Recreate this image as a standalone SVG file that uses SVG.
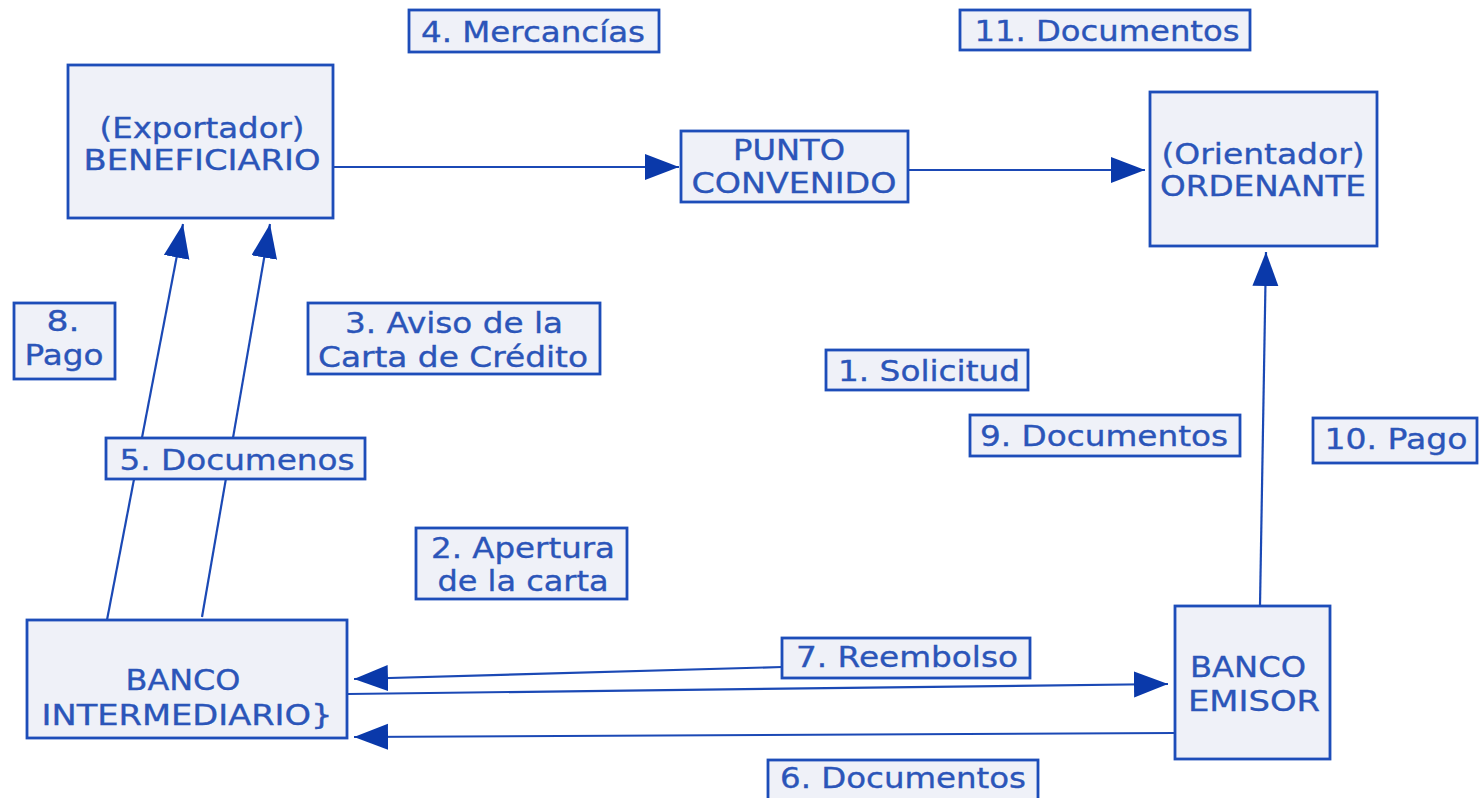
<svg xmlns="http://www.w3.org/2000/svg" width="1479" height="798" viewBox="0 0 1479 798">
<style>
.box{fill:#eff1f8;stroke:#1d4db9;stroke-width:2.8}
.t{font-family:"DejaVu Sans",Verdana,sans-serif;font-size:28px;fill:#2b55b9;stroke:#2b55b9;stroke-width:0.35;text-anchor:middle}
.c{stroke:#1b49b5;stroke-width:2.2;fill:none;marker-end:url(#ah)}
</style>
<defs>
<marker id="ah" markerUnits="userSpaceOnUse" markerWidth="36" markerHeight="28" refX="34" refY="13" orient="auto">
<path d="M0,0 L34,13 L0,26 z" fill="#0a39aa"/>
</marker>
</defs>
<rect x="0" y="0" width="1479" height="798" fill="#ffffff"/>
<g id="connectors">
<line class="c" x1="334" y1="167" x2="679" y2="167"/>
<line class="c" x1="909" y1="170" x2="1145" y2="170"/>
<line class="c" x1="107" y1="620" x2="183" y2="224"/>
<line class="c" x1="202" y1="617" x2="270" y2="224"/>
<line class="c" x1="1260" y1="606" x2="1266" y2="252"/>
<line class="c" x1="782" y1="667" x2="354" y2="679"/>
<line class="c" x1="348" y1="694" x2="1168" y2="684"/>
<line class="c" x1="1175" y1="733" x2="354" y2="737"/>
</g>
<g id="beneficiario">
<rect class="box" x="68" y="65" width="265" height="153"/>
<text class="t" x="202" y="138" textLength="205" lengthAdjust="spacingAndGlyphs">(Exportador)</text>
<text class="t" x="202" y="170" textLength="237" lengthAdjust="spacingAndGlyphs">BENEFICIARIO</text>
</g>
<g id="punto">
<rect class="box" x="681" y="131" width="227" height="71"/>
<text class="t" x="789" y="160" textLength="112" lengthAdjust="spacingAndGlyphs">PUNTO</text>
<text class="t" x="794" y="193" textLength="205" lengthAdjust="spacingAndGlyphs">CONVENIDO</text>
</g>
<g id="ordenante">
<rect class="box" x="1150" y="92" width="227" height="154"/>
<text class="t" x="1263" y="164" textLength="203" lengthAdjust="spacingAndGlyphs">(Orientador)</text>
<text class="t" x="1263" y="196" textLength="206" lengthAdjust="spacingAndGlyphs">ORDENANTE</text>
</g>
<g id="intermediario">
<rect class="box" x="27" y="620" width="320" height="118"/>
<text class="t" x="183" y="690" textLength="115" lengthAdjust="spacingAndGlyphs">BANCO</text>
<text class="t" x="187" y="725" textLength="291" lengthAdjust="spacingAndGlyphs">INTERMEDIARIO}</text>
</g>
<g id="emisor">
<rect class="box" x="1175" y="606" width="155" height="153"/>
<text class="t" x="1248" y="677" textLength="116" lengthAdjust="spacingAndGlyphs">BANCO</text>
<text class="t" x="1254" y="711" textLength="132" lengthAdjust="spacingAndGlyphs">EMISOR</text>
</g>
<g id="l4">
<rect class="box" x="409" y="10" width="250" height="42"/>
<text class="t" x="533" y="42" textLength="224" lengthAdjust="spacingAndGlyphs">4. Mercancías</text>
</g>
<g id="l11">
<rect class="box" x="960" y="10" width="290" height="40"/>
<text class="t" x="1107" y="41" textLength="265" lengthAdjust="spacingAndGlyphs">11. Documentos</text>
</g>
<g id="l8">
<rect class="box" x="14" y="303" width="101" height="76"/>
<text class="t" x="63" y="331" textLength="33" lengthAdjust="spacingAndGlyphs">8.</text>
<text class="t" x="64" y="365" textLength="79" lengthAdjust="spacingAndGlyphs">Pago</text>
</g>
<g id="l3">
<rect class="box" x="308" y="303" width="292" height="71"/>
<text class="t" x="454" y="333" textLength="218" lengthAdjust="spacingAndGlyphs">3. Aviso de la</text>
<text class="t" x="453" y="367" textLength="270" lengthAdjust="spacingAndGlyphs">Carta de Crédito</text>
</g>
<g id="l1">
<rect class="box" x="826" y="350" width="202" height="40"/>
<text class="t" x="929" y="381" textLength="182" lengthAdjust="spacingAndGlyphs">1. Solicitud</text>
</g>
<g id="l9">
<rect class="box" x="970" y="415" width="270" height="41"/>
<text class="t" x="1104" y="446" textLength="248" lengthAdjust="spacingAndGlyphs">9. Documentos</text>
</g>
<g id="l10">
<rect class="box" x="1313" y="418" width="164" height="45"/>
<text class="t" x="1396" y="449" textLength="143" lengthAdjust="spacingAndGlyphs">10. Pago</text>
</g>
<g id="l5">
<rect class="box" x="106" y="438" width="259" height="41"/>
<text class="t" x="237" y="470" textLength="235" lengthAdjust="spacingAndGlyphs">5. Documenos</text>
</g>
<g id="l2">
<rect class="box" x="416" y="528" width="211" height="71"/>
<text class="t" x="523" y="558" textLength="184" lengthAdjust="spacingAndGlyphs">2. Apertura</text>
<text class="t" x="523" y="591" textLength="171" lengthAdjust="spacingAndGlyphs">de la carta</text>
</g>
<g id="l7">
<rect class="box" x="782" y="638" width="248" height="40"/>
<text class="t" x="907" y="667" textLength="222" lengthAdjust="spacingAndGlyphs">7. Reembolso</text>
</g>
<g id="l6">
<rect class="box" x="768" y="760" width="270" height="42"/>
<text class="t" x="903" y="788" textLength="246" lengthAdjust="spacingAndGlyphs">6. Documentos</text>
</g>
</svg>
